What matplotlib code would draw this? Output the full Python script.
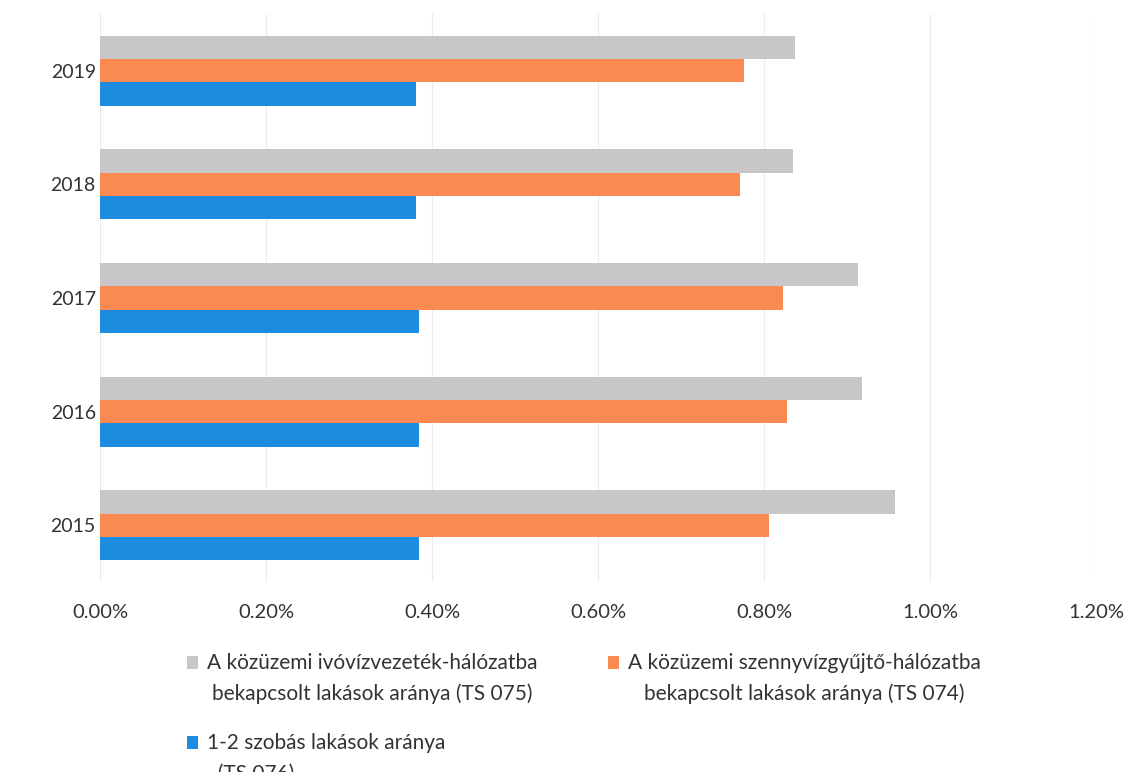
import numpy as np
import matplotlib.pyplot as plt
from matplotlib.ticker import FuncFormatter
from matplotlib.legend_handler import HandlerPatch
from matplotlib.patches import Rectangle

# Data (values in %)
years = ['2015', '2016', '2017', '2018', '2019']
ivoviz = [0.958, 0.918, 0.913, 0.835, 0.837]       # TS 075
szennyviz = [0.806, 0.828, 0.823, 0.771, 0.776]    # TS 074
szobas = [0.384, 0.384, 0.384, 0.381, 0.381]       # TS 076

labels = ['A közüzemi ivóvízvezeték-hálózatba\nbekapcsolt lakások aránya (TS 075)',
          'A közüzemi szennyvízgyűjtő-hálózatba\nbekapcsolt lakások aránya (TS 074)',
          '1-2 szobás lakások aránya\n  (TS 076)']
colors = ['#C9C6CA', '#FA8A52', '#1D8BE0']

plt.rcParams['font.family'] = ['Lato', 'DejaVu Sans']

fig = plt.figure(figsize=(11.4, 7.72), dpi=100)
ax = fig.add_axes([100 / 1140, 1 - 582 / 772, 996 / 1140, 568 / 772])

y = np.arange(len(years))
h = 0.205
b1 = ax.barh(y + h, ivoviz, height=h, color=colors[0])
b2 = ax.barh(y, szennyviz, height=h, color=colors[1])
b3 = ax.barh(y - h, szobas, height=h, color=colors[2])

ax.set_xlim(0, 1.2)
ax.set_ylim(-0.5, 4.5)
ax.set_xticks(np.arange(0, 1.21, 0.2))
ax.xaxis.set_major_formatter(FuncFormatter(lambda v, p: f'{v:.2f}%'))
ax.set_yticks(y)
ax.set_yticklabels(years)
ax.tick_params(axis='both', length=0, labelsize=14, colors='#333333')
ax.tick_params(axis='x', labelsize=14.5, pad=16)
ax.tick_params(axis='y', pad=3)
ax.grid(axis='x', color='#EBEBEB', linewidth=0.8)
ax.set_axisbelow(True)
for s in ax.spines.values():
    s.set_visible(False)

LINE_PT = 12.0  # lift square up to the first text line, in points


def top_square(legend, orig_handle, xdescent, ydescent, width, height, fontsize):
    # put the square next to the first line of a two-line label
    return Rectangle((-xdescent, -ydescent + LINE_PT), width, height)


leg = fig.legend([b1[0], b3[0], b2[0]], [labels[0], labels[2], labels[1]], ncol=2,
                 loc='upper left', bbox_to_anchor=(168 / 1140, 1 - 634 / 772),
                 frameon=False, handlelength=0.55, handleheight=0.55, handletextpad=0.4,
                 columnspacing=3.4, labelspacing=1.4, fontsize=15,
                 handler_map={Rectangle: HandlerPatch(patch_func=top_square)})
for i, t in enumerate(leg.get_texts()):
    t.set_multialignment('left' if i == 1 else 'center')
    t.set_linespacing(1.65)
    t.set_color('#333333')

fig.savefig('out.png', dpi=100)
